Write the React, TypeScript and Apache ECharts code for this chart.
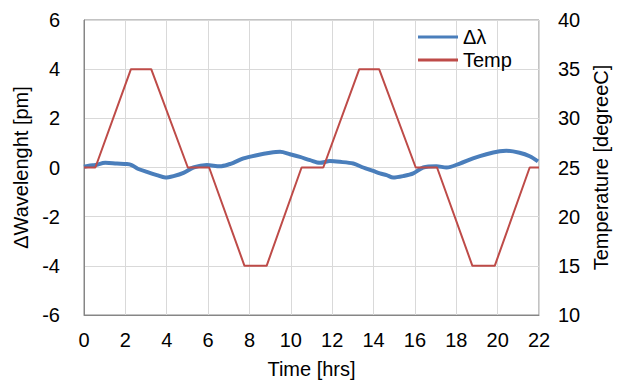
import React, { useEffect, useRef } from "react";
import * as echarts from "echarts";

const xTicks = [0, 2, 4, 6, 8, 10, 12, 14, 16, 18, 20, 22];

const wavelengthTime = [
  0.0, 0.3, 0.55, 1.03, 1.59, 2.07, 2.3, 2.6, 3.04, 3.52, 3.93, 4.33, 4.81, 5.29, 5.94,
  6.58, 7.06, 7.22, 7.71, 8.35, 9.0, 9.48, 9.96, 10.44, 10.93, 11.41, 11.89, 12.37,
  13.02, 13.5, 13.98, 14.31, 14.63, 14.95, 15.43, 15.92, 16.4, 17.04, 17.53, 18.17,
  18.81, 19.46, 20.1, 20.42, 21.06, 21.55, 21.95,
];
const wavelengthShift = [
  0.03, 0.08, 0.1, 0.19, 0.16, 0.14, 0.1, -0.05, -0.18, -0.31, -0.41, -0.35, -0.22, 0.0, 0.1,
  0.05, 0.14, 0.19, 0.37, 0.5, 0.6, 0.64, 0.54, 0.43, 0.3, 0.19, 0.26, 0.23,
  0.16, 0.0, -0.14, -0.24, -0.31, -0.41, -0.35, -0.24, 0.0, 0.05, 0.0, 0.16,
  0.37, 0.54, 0.66, 0.68, 0.6, 0.46, 0.25,
];

const tempTime = [0, 0.55, 2.27, 3.25, 5.02, 6.05, 7.76, 8.83, 10.52, 11.57, 13.31, 14.27, 16.04, 17.07, 18.78, 19.86, 21.55, 22];
const tempValue = [25, 25, 35, 35, 25, 25, 15, 15, 25, 25, 35, 35, 25, 25, 15, 15, 25, 25];

const FONT = "Liberation Sans, Arial, sans-serif";

export default function App() {
  const ref = useRef<HTMLDivElement>(null);
  useEffect(() => {
    document.body.style.margin = "0";
    if (!ref.current) return;
    const chart = echarts.init(ref.current, null, { renderer: "svg" });
    const text = { color: "#000", fontFamily: FONT, fontSize: 20 };
    chart.setOption({
      animation: false,
      backgroundColor: "#fff",
      textStyle: { fontFamily: FONT },
      grid: {
        left: 84,
        right: 82,
        top: 20,
        bottom: 73,
        show: true,
        borderColor: "#868686",
        borderWidth: 1,
        containLabel: false,
        outerBoundsMode: "none",
      },
      legend: {
        orient: "vertical",
        left: 413,
        top: 22,
        itemWidth: 40,
        itemHeight: 3,
        itemGap: 3,
        icon: "rect",
        textStyle: { ...text, lineHeight: 20 },
        data: ["Δλ", "Temp"],
      },
      xAxis: {
        type: "value",
        min: 0,
        max: 22,
        interval: 2,
        name: "Time [hrs]",
        nameLocation: "middle",
        nameGap: 44,
        nameTextStyle: text,
        axisLine: { show: true, onZero: false, lineStyle: { color: "#868686" } },
        axisTick: { show: false },
        axisLabel: { ...text, margin: 15, formatter: (v: number) => (xTicks.includes(v) ? String(v) : "") },
        splitLine: { show: true, lineStyle: { color: "#d9d9d9", width: 1 } },
      },
      yAxis: [
        {
          type: "value",
          min: -6,
          max: 6,
          interval: 2,
          name: "ΔWavelenght [pm]",
          nameLocation: "middle",
          nameGap: 48,
          nameTextStyle: text,
          axisLine: { show: true, onZero: false, lineStyle: { color: "#868686" } },
          axisTick: { show: false },
          axisLabel: { ...text, margin: 24 },
          splitLine: { show: true, lineStyle: { color: "#d9d9d9", width: 1 } },
        },
        {
          type: "value",
          min: 10,
          max: 40,
          interval: 5,
          name: "Temperature [degreeC]",
          nameLocation: "middle",
          nameGap: 50,
          nameTextStyle: text,
          axisLine: { show: false, onZero: false },
          axisTick: { show: false },
          axisLabel: { ...text, margin: 19 },
          splitLine: { show: false },
        },
      ],
      series: [
        {
          name: "Δλ",
          type: "line",
          yAxisIndex: 0,
          symbol: "none",
          smooth: 0.3,
          color: "#4A7EBB",
          lineStyle: { color: "#4A7EBB", width: 4 },
          data: wavelengthTime.map((t, i) => [t, wavelengthShift[i]]),
        },
        {
          name: "Temp",
          type: "line",
          yAxisIndex: 1,
          symbol: "none",
          color: "#BE4B48",
          lineStyle: { color: "#BE4B48", width: 2 },
          data: tempTime.map((t, i) => [t, tempValue[i]]),
        },
      ],
    });
    return () => chart.dispose();
  }, []);
  return <div ref={ref} style={{ width: 621, height: 388 }} />;
}
